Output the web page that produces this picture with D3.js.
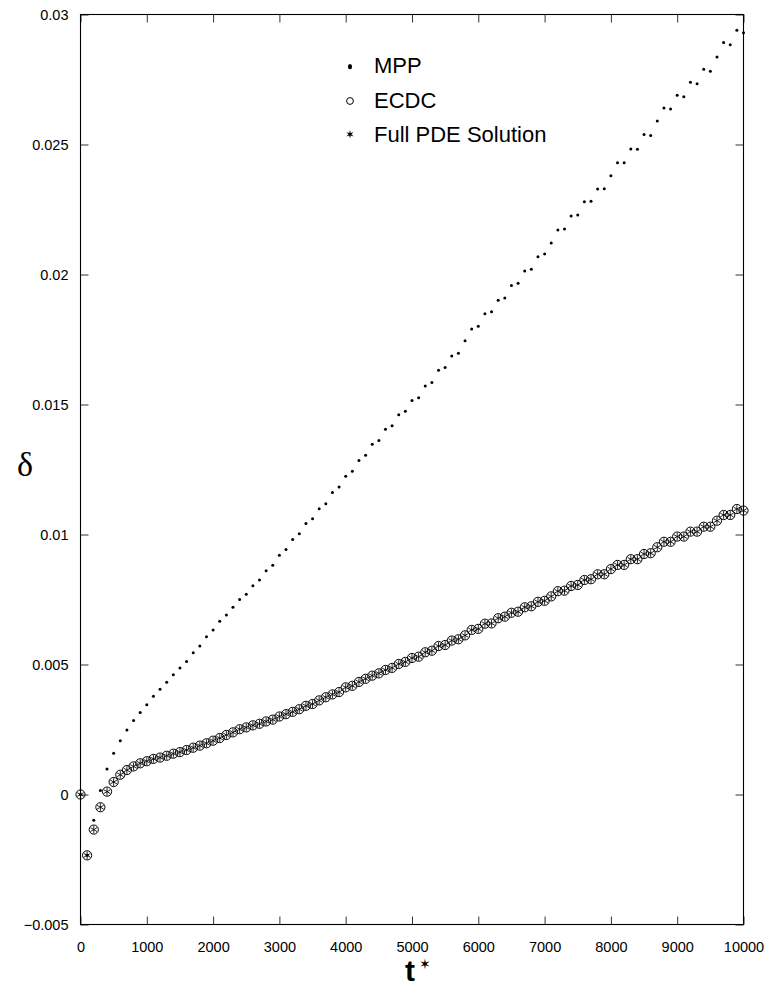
<!DOCTYPE html>
<html>
<head>
<meta charset="utf-8">
<script src="https://cdn.jsdelivr.net/npm/d3@7"></script>
<style>
  html, body { margin: 0; padding: 0; background: #fff; }
  svg { display: block; }
  text { font-family: "Liberation Sans", Arial, Helvetica, sans-serif; fill: #000; }
</style>
</head>
<body>
<svg id="chart" width="765" height="989"></svg>
<script>
// Sampling times t*
const tStar = [
  0, 100, 200, 300, 400, 500, 600, 700, 800, 900,
  1000, 1100, 1200, 1300, 1400, 1500, 1600, 1700, 1800, 1900,
  2000, 2100, 2200, 2300, 2400, 2500, 2600, 2700, 2800, 2900,
  3000, 3100, 3200, 3300, 3400, 3500, 3600, 3700, 3800, 3900,
  4000, 4100, 4200, 4300, 4400, 4500, 4600, 4700, 4800, 4900,
  5000, 5100, 5200, 5300, 5400, 5500, 5600, 5700, 5800, 5900,
  6000, 6100, 6200, 6300, 6400, 6500, 6600, 6700, 6800, 6900,
  7000, 7100, 7200, 7300, 7400, 7500, 7600, 7700, 7800, 7900,
  8000, 8100, 8200, 8300, 8400, 8500, 8600, 8700, 8800, 8900,
  9000, 9100, 9200, 9300, 9400, 9500, 9600, 9700, 9800, 9900,
  10000
];

// delta from the MPP model
const mppDelta = [
  0, -0.00234, -0.00099, 0.00015, 0.00098, 0.00159, 0.00207, 0.00248, 0.00285, 0.00315,
  0.00345, 0.00378, 0.00405, 0.00432, 0.00461, 0.00487, 0.00512, 0.00545, 0.00571, 0.00607,
  0.00633, 0.00666, 0.0069, 0.0072, 0.0075, 0.0077, 0.00803, 0.00825, 0.00861, 0.00882,
  0.0092, 0.00942, 0.00981, 0.01003, 0.01042, 0.01061, 0.01099, 0.01118, 0.01162, 0.01183,
  0.01224, 0.01243, 0.01285, 0.01305, 0.01347, 0.01362, 0.01405, 0.01418, 0.01461, 0.01474,
  0.01515, 0.01526, 0.01571, 0.01585, 0.01632, 0.01642, 0.01687, 0.01697, 0.01745, 0.0179,
  0.01801, 0.01849, 0.01857, 0.01901, 0.0191, 0.01958, 0.01966, 0.02013, 0.0202, 0.02068,
  0.02079, 0.02121, 0.02171, 0.02175, 0.02225, 0.02229, 0.0228, 0.02282, 0.02329, 0.0233,
  0.0238, 0.0243, 0.0243, 0.02483, 0.02482, 0.02538, 0.02535, 0.0259, 0.0264, 0.02637,
  0.02689, 0.02684, 0.02739, 0.02734, 0.02789, 0.02782, 0.02837, 0.02892, 0.02884, 0.02939,
  0.0293
];

// delta from the ECDC model
const ecdcDelta = [
  0, -0.00234, -0.00135, -0.00049, 0.00011, 0.00048, 0.00076, 0.00094, 0.00108, 0.0012,
  0.00128, 0.00137, 0.00142, 0.00149, 0.00157, 0.00163, 0.00171, 0.0018, 0.00188, 0.00197,
  0.00207, 0.00217, 0.00229, 0.00239, 0.00251, 0.00258, 0.00266, 0.00272, 0.00281, 0.00288,
  0.003, 0.00309, 0.00318, 0.00328, 0.00341, 0.00348, 0.00362, 0.00374, 0.00385, 0.00394,
  0.00412, 0.00418, 0.00433, 0.00445, 0.00457, 0.00466, 0.00479, 0.00487, 0.00502, 0.0051,
  0.00525, 0.0053, 0.00547, 0.00553, 0.00571, 0.00575, 0.00592, 0.00597, 0.00612, 0.00633,
  0.00637, 0.00657, 0.00658, 0.00678, 0.00684, 0.00699, 0.00703, 0.0072, 0.00724, 0.00741,
  0.00745, 0.00762, 0.00782, 0.00784, 0.00802, 0.00806, 0.00825, 0.00828, 0.00847, 0.00847,
  0.00867, 0.00883, 0.00883, 0.00905, 0.00905, 0.00925, 0.00928, 0.00951, 0.00972, 0.00972,
  0.00992, 0.00992, 0.01011, 0.01011, 0.0103, 0.0103, 0.01053, 0.01075, 0.01075, 0.01098,
  0.01092
];

// delta from the full PDE solution
const pdeDelta = [
  0, -0.00234, -0.00135, -0.00049, 0.00011, 0.00048, 0.00076, 0.00094, 0.00108, 0.0012,
  0.00128, 0.00137, 0.00142, 0.00149, 0.00157, 0.00163, 0.00171, 0.0018, 0.00188, 0.00197,
  0.00207, 0.00217, 0.00229, 0.00239, 0.00251, 0.00258, 0.00266, 0.00272, 0.00281, 0.00288,
  0.003, 0.00309, 0.00318, 0.00328, 0.00341, 0.00348, 0.00362, 0.00374, 0.00385, 0.00394,
  0.00412, 0.00418, 0.00433, 0.00445, 0.00457, 0.00466, 0.00479, 0.00487, 0.00502, 0.0051,
  0.00525, 0.0053, 0.00547, 0.00553, 0.00571, 0.00575, 0.00592, 0.00597, 0.00612, 0.00633,
  0.00637, 0.00657, 0.00658, 0.00678, 0.00684, 0.00699, 0.00703, 0.0072, 0.00724, 0.00741,
  0.00745, 0.00762, 0.00782, 0.00784, 0.00802, 0.00806, 0.00825, 0.00828, 0.00847, 0.00847,
  0.00867, 0.00883, 0.00883, 0.00905, 0.00905, 0.00925, 0.00928, 0.00951, 0.00972, 0.00972,
  0.00992, 0.00992, 0.01011, 0.01011, 0.0103, 0.0103, 0.01053, 0.01075, 0.01075, 0.01098,
  0.01092
];

// Axis ticks and their labels
const xTicks = [0, 1000, 2000, 3000, 4000, 5000, 6000, 7000, 8000, 9000, 10000];
const xTickLabels = ["0", "1000", "2000", "3000", "4000", "5000", "6000", "7000", "8000", "9000", "10000"];
const yTicks = [-0.005, 0, 0.005, 0.01, 0.015, 0.02, 0.025, 0.03];
const yTickLabels = ["\u22120.005", "0", "0.005", "0.01", "0.015", "0.02", "0.025", "0.03"];

const legendLabels = ["MPP", "ECDC", "Full PDE Solution"];

// ---- layout ----
const svg = d3.select("#chart");
const L = 80.5, R = 743.5, T = 14.5, B = 924.5;

const x = d3.scaleLinear().domain([0, 10000]).range([L, R]);
const y = d3.scaleLinear().domain([-0.005, 0.03]).range([B, T]);

const tickLen = 8;
const xFmt = d => xTickLabels[xTicks.indexOf(d)];
const yFmt = d => yTickLabels[yTicks.indexOf(d)];

function styleAxis(g, showLabels) {
  g.select(".domain").remove();
  g.selectAll(".tick line").attr("stroke", "#333").attr("stroke-width", 1);
  g.selectAll(".tick text")
    .style("font-family", '"Liberation Sans", Arial, sans-serif')
    .style("font-size", "14.5px")
    .attr("fill", "#000");
  if (!showLabels) g.selectAll(".tick text").remove();
}

// bottom axis
svg.append("g")
  .attr("transform", `translate(0,${B})`)
  .call(d3.axisBottom(x).tickValues(xTicks).tickFormat(xFmt).tickSizeInner(-tickLen).tickSizeOuter(0).tickPadding(17))
  .call(g => styleAxis(g, true));

// top axis
svg.append("g")
  .attr("transform", `translate(0,${T})`)
  .call(d3.axisTop(x).tickValues(xTicks).tickSizeInner(-tickLen).tickSizeOuter(0))
  .call(g => styleAxis(g, false));

// left axis
svg.append("g")
  .attr("transform", `translate(${L},0)`)
  .call(d3.axisLeft(y).tickValues(yTicks).tickFormat(yFmt).tickSizeInner(-tickLen).tickSizeOuter(0).tickPadding(12))
  .call(g => styleAxis(g, true));

// right axis
svg.append("g")
  .attr("transform", `translate(${R},0)`)
  .call(d3.axisRight(y).tickValues(yTicks).tickSizeInner(-tickLen).tickSizeOuter(0))
  .call(g => styleAxis(g, false));

// frame
svg.append("rect")
  .attr("x", L).attr("y", T)
  .attr("width", R - L).attr("height", B - T)
  .attr("fill", "none").attr("stroke", "#000").attr("stroke-width", 1.1);

// ---- markers ----
function asteriskPath(r) {
  let p = "";
  for (let k = 0; k < 3; k++) {
    const a = Math.PI / 2 + k * Math.PI / 3;
    const dx = r * Math.cos(a), dy = r * Math.sin(a);
    p += `M${-dx},${-dy}L${dx},${dy}`;
  }
  return p;
}
function starPath(ro, ri) {
  const pts = [];
  for (let k = 0; k < 12; k++) {
    const a = -Math.PI / 2 + k * Math.PI / 6;
    const r = k % 2 === 0 ? ro : ri;
    pts.push([r * Math.cos(a), r * Math.sin(a)]);
  }
  return "M" + pts.map(p => p.join(",")).join("L") + "Z";
}

const plot = svg.append("g");

// ECDC: open circles
plot.append("g").selectAll("circle")
  .data(tStar.map((t, i) => [t, ecdcDelta[i]]))
  .join("circle")
  .attr("cx", d => x(d[0])).attr("cy", d => y(d[1]))
  .attr("r", 4.6)
  .attr("fill", "none").attr("stroke", "#000").attr("stroke-width", 1);

// Full PDE solution: six-armed stars
plot.append("g").selectAll("path")
  .data(tStar.map((t, i) => [t, pdeDelta[i]]))
  .join("path")
  .attr("transform", d => `translate(${x(d[0])},${y(d[1])})`)
  .attr("d", asteriskPath(3.9))
  .attr("fill", "none").attr("stroke", "#000").attr("stroke-width", 0.85);

// MPP: small dots
plot.append("g").selectAll("circle")
  .data(tStar.map((t, i) => [t, mppDelta[i]]))
  .join("circle")
  .attr("cx", d => x(d[0])).attr("cy", d => y(d[1]))
  .attr("r", 1.5)
  .attr("fill", "#000");

// ---- legend ----
const legend = svg.append("g");
const legX = 350, legTextX = 374;
const legRows = [66.7, 101, 134.3];
const legBase = [73.3, 108.3, 142.3];

legend.append("ellipse")
  .attr("cx", legX).attr("cy", legRows[0]).attr("rx", 2.1).attr("ry", 2.6).attr("fill", "#000");
legend.append("circle")
  .attr("cx", legX).attr("cy", legRows[1]).attr("r", 3.4)
  .attr("fill", "none").attr("stroke", "#000").attr("stroke-width", 1);
legend.append("path")
  .attr("transform", `translate(${legX},${legRows[2]})`)
  .attr("d", starPath(4.2, 1.5)).attr("fill", "#000");

legend.selectAll("text")
  .data(legendLabels)
  .join("text")
  .attr("x", legTextX).attr("y", (d, i) => legBase[i])
  .style("font-size", "22px")
  .text(d => d);

// ---- axis titles ----
svg.append("text")
  .attr("x", 25).attr("y", 476)
  .attr("text-anchor", "middle")
  .style("font-family", '"Liberation Serif", "Times New Roman", serif')
  .style("font-size", "34px")
  .text("\u03B4");

const xt = svg.append("text")
  .attr("x", 405).attr("y", 981)
  .style("font-size", "30px")
  .style("font-weight", "bold");
xt.append("tspan").text("t");
xt.append("tspan")
  .attr("dx", 4).attr("dy", -12)
  .style("font-family", '"DejaVu Sans", sans-serif')
  .style("font-size", "14px")
  .style("font-weight", "normal")
  .text("\u2736");
</script>
</body>
</html>
